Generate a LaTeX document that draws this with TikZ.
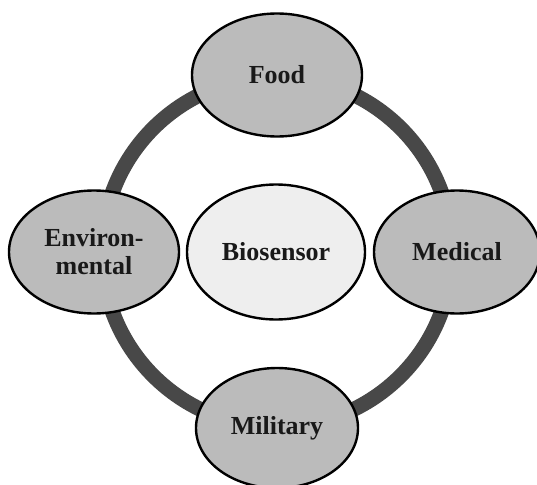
\documentclass[tikz,border=0pt]{standalone}
\usepackage{fontspec}
\setmainfont{Liberation Serif}
\usetikzlibrary{shapes.geometric}
\definecolor{ringgray}{RGB}{72,72,72}
\definecolor{appgray}{RGB}{187,187,187}
\definecolor{hubgray}{RGB}{238,238,238}
\definecolor{txt}{RGB}{25,25,25}

\begin{document}
\begin{tikzpicture}[x=1pt,y=-1pt,
          app/.style={ellipse,draw=black,line width=2.4pt,fill=appgray,inner sep=0pt,
            minimum width=170pt,minimum height=123pt,align=center,text=txt,
            font=\fontsize{26}{28}\selectfont\bfseries},
          hub/.style={app,fill=hubgray,minimum width=178pt,minimum height=135pt},
          ring/.style={ringgray,line width=15pt}
      ]
        \useasboundingbox (0,0) rectangle (537,484);
        \coordinate (mid) at (277,252);
        \draw[ring] (mid) circle[radius=175];
        \node[hub] (bio)  at (276,252) {Biosensor};
        \node[app] (food) at (277,75)  {Food};
        \node[app] (env)  at (94,252)  {Environ-\\mental};
        \node[app,minimum width=166pt] (med) at (457,252) {Medical};
        \node[app,minimum width=162pt,minimum height=120pt] (mil) at (277,428) {Military};
      \end{tikzpicture}
\end{document}
